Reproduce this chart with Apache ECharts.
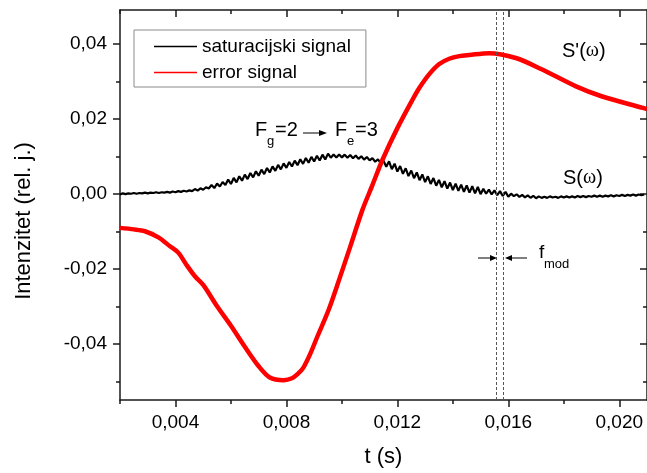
<!DOCTYPE html>
<html><head><meta charset="utf-8">
<script src="https://cdn.jsdelivr.net/npm/echarts@6/dist/echarts.min.js"></script>
<style>html,body{margin:0;padding:0;background:#fff}#c{width:647px;height:473px}</style>
</head><body><div id="c"></div>
<script>
// ---- data ----
const seriesNames = ['saturacijski signal', 'error signal'];

const satT = [
0.0020,0.0021,0.0022,0.0023,0.0024,0.0025,0.0026,0.0027,0.0028,0.0029,
0.0030,0.0031,0.0032,0.0033,0.0034,0.0035,0.0036,0.0037,0.0038,0.0039,
0.0040,0.0041,0.0042,0.0043,0.0044,0.0045,0.0046,0.0047,0.0048,0.0049,
0.0050,0.0051,0.0052,0.0053,0.0054,0.0055,0.0056,0.0057,0.0058,0.0059,
0.0060,0.0061,0.0062,0.0063,0.0064,0.0065,0.0066,0.0067,0.0068,0.0069,
0.0070,0.0071,0.0072,0.0073,0.0074,0.0075,0.0076,0.0077,0.0078,0.0079,
0.0080,0.0081,0.0082,0.0083,0.0084,0.0085,0.0086,0.0087,0.0088,0.0089,
0.0090,0.0091,0.0092,0.0093,0.0094,0.0095,0.0096,0.0097,0.0098,0.0099,
0.0100,0.0101,0.0102,0.0103,0.0104,0.0105,0.0106,0.0107,0.0108,0.0109,
0.0110,0.0111,0.0112,0.0113,0.0114,0.0115,0.0116,0.0117,0.0118,0.0119,
0.0120,0.0121,0.0122,0.0123,0.0124,0.0125,0.0126,0.0127,0.0128,0.0129,
0.0130,0.0131,0.0132,0.0133,0.0134,0.0135,0.0136,0.0137,0.0138,0.0139,
0.0140,0.0141,0.0142,0.0143,0.0144,0.0145,0.0146,0.0147,0.0148,0.0149,
0.0150,0.0151,0.0152,0.0153,0.0154,0.0155,0.0156,0.0157,0.0158,0.0159,
0.0160,0.0161,0.0162,0.0163,0.0164,0.0165,0.0166,0.0167,0.0168,0.0169,
0.0170,0.0171,0.0172,0.0173,0.0174,0.0175,0.0176,0.0177,0.0178,0.0179,
0.0180,0.0181,0.0182,0.0183,0.0184,0.0185,0.0186,0.0187,0.0188,0.0189,
0.0190,0.0191,0.0192,0.0193,0.0194,0.0195,0.0196,0.0197,0.0198,0.0199,
0.0200,0.0201,0.0202,0.0203,0.0204,0.0205,0.0206,0.0207,0.0208,0.0209
];
const satV = [
-0.0002,0.0001,-0.0001,0.0001,0.0000,0.0002,0.0000,0.0002,0.0001,0.0003,
0.0001,0.0003,0.0002,0.0004,0.0002,0.0004,0.0003,0.0005,0.0003,0.0006,
0.0004,0.0007,0.0005,0.0008,0.0006,0.0009,0.0007,0.00125,0.00085,0.00145,
0.00105,0.00173,0.00141,0.00234,0.00152,0.0027,0.00192,0.00314,0.00236,0.00378,
0.0026,0.00422,0.00304,0.00466,0.00348,0.0051,0.00392,0.00554,0.00436,0.00598,
0.0048,0.00642,0.00524,0.00686,0.00568,0.0073,0.0061,0.0077,0.0065,0.0081,
0.0069,0.00848,0.00726,0.00884,0.00762,0.0092,0.00796,0.00952,0.00828,0.00984,
0.0086,0.01014,0.00888,0.01042,0.00916,0.0107,0.00962,0.01044,0.00966,0.01048,
0.0097,0.01044,0.00958,0.01032,0.00946,0.0102,0.0093,0.0100,0.0091,0.0098,
0.0089,0.00952,0.00854,0.00916,0.00818,0.0088,0.00718,0.00866,0.00654,0.00802,
0.0059,0.0074,0.0053,0.0068,0.0047,0.0062,0.00414,0.00568,0.00362,0.00516,
0.0031,0.00466,0.00262,0.00418,0.00214,0.0037,0.00172,0.00334,0.00136,0.00298,
0.0010,0.00268,0.00076,0.00244,0.00052,0.0022,0.0003,0.0020,0.0001,0.0018,
-0.0001,0.0013,0.0000,0.0011,-0.0002,0.0009,-0.0004,0.0007,-0.0006,0.0005,
-0.0008,0.00002,-0.00066,-0.00014,-0.00082,-0.0003,-0.00096,-0.00042,-0.00108,-0.00054,
-0.0012,-0.0007,-0.0011,-0.0008,-0.0011,-0.0007,-0.0010,-0.0008,-0.0011,-0.0007,
-0.0010,-0.0007,-0.0010,-0.0007,-0.0010,-0.0006,-0.0009,-0.0006,-0.0009,-0.0006,
-0.0008,-0.0005,-0.0008,-0.0005,-0.0008,-0.0005,-0.0007,-0.0004,-0.0007,-0.0004,
-0.0006,-0.0003,-0.0006,-0.0003,-0.0005,-0.0002,-0.0005,-0.0002,-0.0004,-0.0002
];

const errT = [0.0020,0.0025,0.0029,0.0034,0.0038,0.0041,0.0044,0.0047,0.0050,0.0055,
  0.0060,0.0065,0.0070,0.0074,0.0079,0.0082,0.0084,0.0086,0.00887,0.00912,
  0.00952,0.00991,0.01031,0.01074,0.01110,0.01146,0.01200,0.01254,0.01279,0.01315,
  0.01351,0.01387,0.01423,0.01459,0.01531,0.01627,0.0172,0.01842,0.01936,0.0208,
  0.0210];
const errV = [-0.0091,-0.0095,-0.0100,-0.0117,-0.0140,-0.0157,-0.0190,-0.0220,-0.0243,-0.0300,
  -0.0352,-0.0408,-0.0460,-0.0490,-0.0497,-0.0492,-0.0481,-0.0465,-0.0425,-0.0380,
  -0.0310,-0.0227,-0.0139,-0.0043,0.0023,0.0090,0.0175,0.0250,0.0282,0.0319,
  0.0346,0.0360,0.0367,0.0370,0.0375,0.0362,0.0332,0.0287,0.0260,0.0230,
  0.0226];

const xRange = [0.002, 0.0210];
const yRange = [-0.055, 0.049];
const xMajor = [0.004, 0.008, 0.012, 0.016, 0.020];
const xMinor = [0.002, 0.006, 0.010, 0.014, 0.018];
const yMajor = [-0.04, -0.02, 0, 0.02, 0.04];
const yMinor = [-0.05, -0.03, -0.01, 0.01, 0.03];
const fmodLines = [0.01558, 0.01582];

// ---- chart ----
const FONT = 'Liberation Sans, Arial, sans-serif';
const AX = '#1a1a1a';
const chart = echarts.init(document.getElementById('c'), null, {renderer: 'canvas'});

function axis(kind, pos, ticks, len, inside, showLine, labels, extra) {
  const a = {
    type: 'value', position: pos, gridIndex: 0,
    min: kind === 'x' ? xRange[0] : yRange[0],
    max: kind === 'x' ? xRange[1] : yRange[1],
    splitLine: {show: false},
    axisLine: {show: showLine, onZero: false, lineStyle: {color: AX, width: 1.5}},
    axisTick: {show: true, inside: inside, length: len, customValues: ticks, lineStyle: {color: AX, width: 1.5}},
    axisLabel: labels ? {
      show: true, customValues: ticks, margin: 13,
      fontSize: 19, fontFamily: FONT, color: '#000',
      formatter: v => (kind === 'x' ? v.toFixed(3) : v.toFixed(2)).replace('.', ',')
    } : {show: false}
  };
  return Object.assign(a, extra || {});
}

const option = {
  animation: false,
  backgroundColor: '#fff',
  grid: {left: 120, top: 10, right: -1, bottom: 73, containLabel: false},
  xAxis: [
    axis('x', 'bottom', xMajor, 7, false, true, true, {
      name: 't (s)', nameLocation: 'middle', nameGap: 46,
      nameTextStyle: {fontSize: 22, fontFamily: FONT, color: '#000'}
    }),
    axis('x', 'bottom', xMinor, 4, false, false, false),
    axis('x', 'top', xMajor, 7, true, true, false),
    axis('x', 'top', xMinor, 4, true, false, false)
  ],
  yAxis: [
    axis('y', 'left', yMajor, 7, false, true, true),
    axis('y', 'left', yMinor, 4, false, false, false),
    axis('y', 'right', yMajor, 7, true, true, false),
    axis('y', 'right', yMinor, 4, true, false, false)
  ],
  legend: {
    data: seriesNames.map(n => ({name: n, icon: 'rect'})),
    orient: 'vertical', left: 134, top: 30,
    padding: [7, 15, 5, 20], itemGap: 7, itemWidth: 43, itemHeight: 1.6,
    borderColor: '#8a8a8a', borderWidth: 1,
    textStyle: {fontSize: 19, fontFamily: FONT, color: '#000', lineHeight: 19}
  },
  series: [
    {
      name: seriesNames[0], type: 'line', xAxisIndex: 0, yAxisIndex: 0,
      data: satT.map((t, i) => [t, satV[i]]),
      symbol: 'none', lineStyle: {color: '#000', width: 2.2}, itemStyle: {color: '#000'},
      markLine: {
        silent: true, symbol: ['none', 'none'], label: {show: false}, precision: 6,
        lineStyle: {color: '#555', width: 1, type: [3, 2]},
        data: fmodLines.map(v => ({xAxis: v}))
      }
    },
    {
      name: seriesNames[1], type: 'line', xAxisIndex: 0, yAxisIndex: 0,
      data: errT.map((t, i) => [t, errV[i]]),
      symbol: 'none', smooth: 0.3,
      lineStyle: {color: '#ff0000', width: 4.5}, itemStyle: {color: '#ff0000'}
    }
  ],
  graphic: [
    {type: 'text', x: 24, y: 221, rotation: Math.PI / 2,
     style: {text: 'Intenzitet (rel. j.)', font: '22px ' + FONT, fill: '#000', textAlign: 'center', textVerticalAlign: 'middle'}},
    {type: 'text', x: 562, y: 51,
     style: {text: "{n|S'(}{w|ω}{n|)}", textVerticalAlign: 'middle',
       rich: {n: {fontSize: 20, fontFamily: FONT, fill: '#000'}, w: {fontSize: 20, fontFamily: 'Liberation Serif, serif', fill: '#000'}}}},
    {type: 'text', x: 563, y: 178,
     style: {text: "{n|S(}{w|ω}{n|)}", textVerticalAlign: 'middle',
       rich: {n: {fontSize: 20, fontFamily: FONT, fill: '#000'}, w: {fontSize: 20, fontFamily: 'Liberation Serif, serif', fill: '#000'}}}},
    // F_g=2 -> F_e=3
    {type: 'text', x: 255, y: 130, style: {text: 'F', font: '20px ' + FONT, fill: '#000', textVerticalAlign: 'middle'}},
    {type: 'text', x: 267, y: 141, style: {text: 'g', font: '13px ' + FONT, fill: '#000', textVerticalAlign: 'middle'}},
    {type: 'text', x: 275, y: 130, style: {text: '=2', font: '20px ' + FONT, fill: '#000', textVerticalAlign: 'middle'}},
    {type: 'line', shape: {x1: 303, y1: 133, x2: 320, y2: 133}, style: {stroke: '#000', lineWidth: 1}},
    {type: 'polygon', shape: {points: [[327, 133], [319, 130], [319, 136]]}, style: {fill: '#000'}},
    {type: 'text', x: 335, y: 130, style: {text: 'F', font: '20px ' + FONT, fill: '#000', textVerticalAlign: 'middle'}},
    {type: 'text', x: 347, y: 141, style: {text: 'e', font: '13px ' + FONT, fill: '#000', textVerticalAlign: 'middle'}},
    {type: 'text', x: 355, y: 130, style: {text: '=3', font: '20px ' + FONT, fill: '#000', textVerticalAlign: 'middle'}},
    // f_mod arrows
    {type: 'line', shape: {x1: 478, y1: 258, x2: 491, y2: 258}, style: {stroke: '#000', lineWidth: 1}},
    {type: 'polygon', shape: {points: [[497, 258], [490, 255], [490, 261]]}, style: {fill: '#000'}},
    {type: 'line', shape: {x1: 527, y1: 258, x2: 511, y2: 258}, style: {stroke: '#000', lineWidth: 1}},
    {type: 'polygon', shape: {points: [[505, 258], [512, 255], [512, 261]]}, style: {fill: '#000'}},
    {type: 'text', x: 539, y: 253, style: {text: 'f', font: '19px ' + FONT, fill: '#000', textVerticalAlign: 'middle'}},
    {type: 'text', x: 544, y: 264, style: {text: 'mod', font: '13px ' + FONT, fill: '#000', textVerticalAlign: 'middle'}}
  ]
};
chart.setOption(option);
</script>
</body></html>
